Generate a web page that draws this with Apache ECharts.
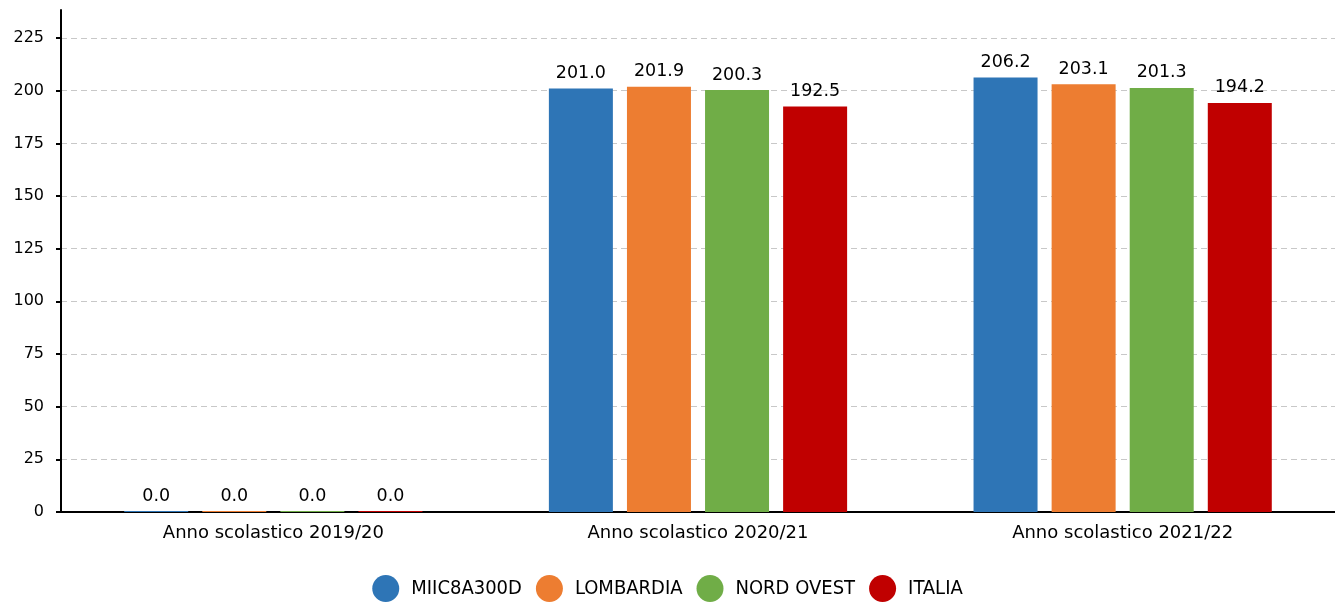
<!DOCTYPE html>
<html><head><meta charset="utf-8">
<script src="https://cdn.jsdelivr.net/npm/echarts@6/dist/echarts.min.js"></script>
<style>html,body{margin:0;padding:0;background:#fff}#c{width:1335px;height:605px}</style>
</head><body><div id="c"></div>
<script>
const categories = ['Anno scolastico 2019/20', 'Anno scolastico 2020/21', 'Anno scolastico 2021/22'];
const seriesNames = ['MIIC8A300D', 'LOMBARDIA', 'NORD OVEST', 'ITALIA'];
const miic = [0.0, 201.0, 206.2];
const lombardia = [0.0, 201.9, 203.1];
const nordOvest = [0.0, 200.3, 201.3];
const italia = [0.0, 192.5, 194.2];
const colors = ['#2E75B6', '#ED7D31', '#70AD47', '#C00000'];
const values = [miic, lombardia, nordOvest, italia];

const chart = echarts.init(document.getElementById('c'));
const font = 'DejaVu Sans';
chart.setOption({
  animation: false,
  textStyle: { fontFamily: font },
  grid: { left: 61, right: 0, top: 10, bottom: 93, containLabel: false },
  legend: {
    top: 570, left: 'center', icon: 'circle', itemWidth: 27, itemHeight: 27, itemGap: 14,
    textStyle: { fontSize: 20, color: '#000', fontFamily: 'DejaVu Sans Condensed', padding: [0, 0, 0, 7] },
    data: seriesNames
  },
  xAxis: {
    type: 'category', data: categories,
    axisLine: { lineStyle: { color: '#000', width: 2 } },
    axisTick: { show: false },
    axisLabel: { fontSize: 18, color: '#000', margin: 12, fontFamily: font }
  },
  yAxis: {
    type: 'value', min: 0, max: 238.3, interval: 25,
    axisLine: { show: true, lineStyle: { color: '#000', width: 2 } },
    axisTick: { show: true, length: 5, lineStyle: { color: '#000', width: 2 } },
    axisLabel: { fontSize: 16, color: '#000', showMaxLabel: false, margin: 17, fontFamily: font },
    splitLine: { show: true, showMaxLine: false, lineStyle: { color: '#c8c8c8', type: [6, 4] } }
  },
  series: values.map((v, i) => ({
    name: seriesNames[i], type: 'bar', data: v,
    barWidth: 64, barGap: '22%', barMinHeight: 1,
    itemStyle: { color: colors[i] },
    label: { show: true, position: 'top', distance: 6, fontSize: 17.5, color: '#000', fontFamily: font,
      formatter: p => p.value.toFixed(1) }
  }))
});
</script></body></html>
